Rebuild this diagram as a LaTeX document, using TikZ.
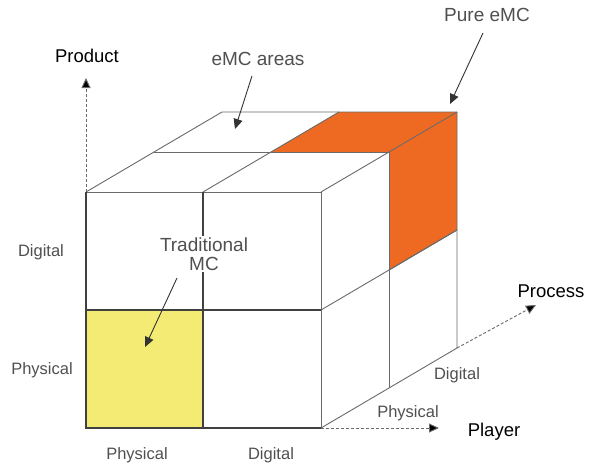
\documentclass[tikz,border=0pt]{standalone}
\usepackage{fontspec}
\setmainfont{Liberation Sans}
\usetikzlibrary{arrows.meta}
\definecolor{edgegray}{HTML}{6A6A6A}
\definecolor{labelgray}{HTML}{505050}
\definecolor{emcorange}{HTML}{EE6A22}
\definecolor{mcyellow}{HTML}{F3EB74}
\tikzset{
  edge/.style={draw=edgegray, line width=0.9pt},
  frontedge/.style={draw=black!75, line width=1.3pt},
  axisarrow/.style={draw=edgegray, line width=0.9pt, dash pattern=on 3pt off 2pt,
    -{Triangle[length=10pt,width=9pt,fill=black]}},
  callout/.style={draw=black!80, line width=0.9pt,
    -{Triangle[length=10pt,width=9pt]}},
  axislabel/.style={font=\fontsize{18.5}{20}\selectfont, text=black, inner sep=1pt},
  note/.style={font=\fontsize{19}{22}\selectfont, text=labelgray, inner sep=1pt, align=center},
  ticklabel/.style={font=\fontsize{16.5}{19}\selectfont, text=labelgray, inner sep=1pt},
}
\begin{document}
\begin{tikzpicture}[x=1pt,y=-1pt]
\useasboundingbox (0,0) rectangle (591,466);
\fill[white] (0,0) rectangle (591,466);

% front face grid
\coordinate (f1) at (86,192);  \coordinate (f2) at (203,192);  \coordinate (f3) at (321,192);
\coordinate (f4) at (86,310);  \coordinate (f5) at (203,310);  \coordinate (f6) at (321,310);
\coordinate (f7) at (86,428);  \coordinate (f8) at (203,428);  \coordinate (f9) at (321,428);
% top face, middle and back rows
\coordinate (t1) at (154,152); \coordinate (t2) at (271,152); \coordinate (t3) at (389,152);
\coordinate (b1) at (222,112); \coordinate (b2) at (339,112); \coordinate (b3) at (457,112);
% right face
\coordinate (r1) at (389,270); \coordinate (r2) at (389,388);
\coordinate (s1) at (457,230); \coordinate (s2) at (457,348);

% highlighted cells
\fill[mcyellow] (f4) rectangle (f8);
\fill[emcorange] (t2) -- (t3) -- (b3) -- (b2) -- cycle;
\fill[emcorange] (t3) -- (b3) -- (s1) -- (r1) -- cycle;

% top face
\draw[edge] (f1) -- (b1) -- (b3);
\draw[edge] (f2) -- (b2);
\draw[edge] (f3) -- (b3);
\draw[edge] (t1) -- (t3);
% right face
\draw[edge] (b3) -- (s2) -- (f9);
\draw[edge] (t3) -- (r2);
\draw[edge] (f6) -- (s1);
\draw[edge] (r1) -- (s1);
% front face
\draw[edge] (f1) -- (f3);
\draw[edge] (f3) -- (f9);
\draw[frontedge] (f1) -- (f7) -- (f9);
\draw[frontedge] (f4) -- (f6);
\draw[frontedge] (f2) -- (f8);

% axes
\coordinate (prodtip) at (86,78);
\coordinate (playtip) at (439,428);
\coordinate (proctip) at (536,305);
\draw[axisarrow] (f1) -- (prodtip);
\draw[axisarrow] (f9) -- (playtip);
\draw[axisarrow] (s2) -- (proctip);
\node[axislabel] (product) at (87,56) {Product};
\node[axislabel] (player) at (494,432) {Player};
\node[axislabel] (process) at (551,291) {Process};

% category labels
\node[ticklabel] (ydig) at (41,252) {Digital};
\node[ticklabel] (yphy) at (42,370) {Physical};
\node[ticklabel] (xphy) at (137,455) {Physical};
\node[ticklabel] (xdig) at (271,455) {Digital};
\node[ticklabel] (zphy) at (408,413) {Physical};
\node[ticklabel] (zdig) at (457,375) {Digital};

% annotations
\node[note, fill=white, inner sep=2pt] (trad) at (204,254) {Traditional\\[-3pt]MC};
\node[note] (areas) at (258,59) {eMC areas};
\node[note] (pure) at (487,15) {Pure eMC};
\coordinate (tradtip) at (145,347);
\coordinate (areastip) at (235,129);
\coordinate (puretip) at (450,104);
\draw[callout] (177,278) -- (tradtip);
\draw[callout] (areas.south) ++(-6,9) -- (areastip);
\draw[callout] (483,33) -- (puretip);
\end{tikzpicture}
\end{document}
